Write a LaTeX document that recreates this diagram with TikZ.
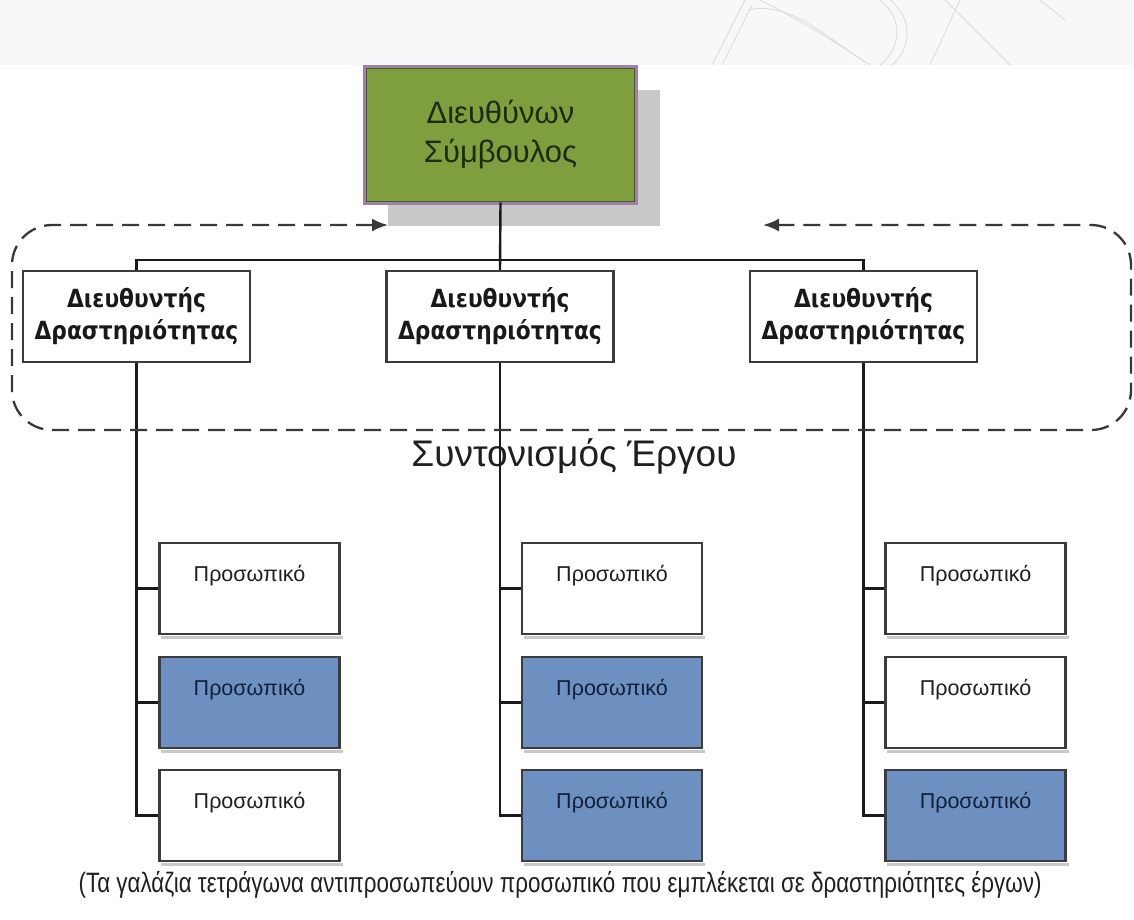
\documentclass[tikz,border=0pt]{standalone}
\usepackage{fontspec}
\setmainfont{Liberation Sans}
\newfontfamily\headfam[FakeStretch=0.87]{DejaVu Sans}
\newfontfamily\narrowfam[FakeStretch=0.8]{Liberation Sans}
\usetikzlibrary{arrows.meta,backgrounds,calc}

\definecolor{ceogreen}{HTML}{7F9F3F}
\definecolor{ceoedge}{HTML}{4A5A2A}
\definecolor{ceorim}{HTML}{9F80A8}
\definecolor{ceotext}{HTML}{1D2B0F}
\definecolor{staffblue}{HTML}{6E90C0}
\definecolor{bluetext}{HTML}{10203A}
\definecolor{boxedge}{HTML}{3C3C3C}
\definecolor{shadowgray}{HTML}{C9C9C9}
\definecolor{bandgray}{HTML}{F8F8F8}
\definecolor{markgray}{HTML}{DADADA}
\definecolor{linkcol}{HTML}{1A1A1A}

\tikzset{
  ceobox/.style={rectangle, fill=ceogreen, draw=ceoedge, line width=1.6pt,
    preaction={draw=ceorim, line width=6.5pt},
    minimum width=268pt, minimum height=133pt, align=center,
    font=\fontsize{31}{39}\selectfont, text=ceotext},
  headbox/.style={rectangle, fill=white, draw=boxedge, line width=2.1pt,
    minimum width=227pt, minimum height=91pt, align=center,
    font=\headfam\bfseries\fontsize{25}{32}\selectfont, text=black!90},
  staffbox/.style={rectangle, draw=boxedge, line width=2.1pt,
    minimum width=180pt, minimum height=91pt, inner sep=0pt},
  plainstaff/.style={staffbox, fill=white},
  bluestaff/.style={staffbox, fill=staffblue},
  stafftext/.style={font=\fontsize{21.5}{25}\selectfont, text=#1},
  link/.style={draw=linkcol, line width=2.4pt},
  coord/.style={draw=black!78, line width=2.3pt, dash pattern=on 17pt off 9pt,
    rounded corners=40pt, {Latex[length=16pt,width=13pt]}-{Latex[length=16pt,width=13pt]}},
}

\begin{document}
\begin{tikzpicture}[x=1pt, y=-1pt]
\useasboundingbox (0,0) rectangle (1134,919);

% light header band with a faint logo mark
\fill[bandgray] (0,0) rectangle (1134,65);
\begin{scope}[draw=markgray, line width=0.8pt]
  \draw (712,65) -- (745,0);
  \draw (722,65) -- (752,5);
  \draw (748,10) .. controls (790,0) and (830,40) .. (865,62);
  \draw (760,0) .. controls (800,20) and (840,45) .. (870,65);
  \draw (880,0) .. controls (905,20) and (900,50) .. (880,65);
  \draw (890,0) .. controls (915,20) and (910,50) .. (892,65);
  \draw (930,65) -- (960,0);
  \draw (945,0) -- (1010,65);
  \draw (1040,0) -- (1065,20);
\end{scope}

% chief executive
\node[ceobox] (ceo) at (500.5,135) {Διευθύνων\\Σύμβουλος};
\begin{scope}[on background layer]
  \fill[shadowgray] ($(ceo.north west)+(22,22)$) rectangle ($(ceo.south east)+(25,24)$);
\end{scope}

% activity directors
\node[headbox] (d1) at (136.5,316.5) {Διευθυντής\\Δραστηριότητας};
\node[headbox] (d2) at (500,316.5)   {Διευθυντής\\Δραστηριότητας};
\node[headbox] (d3) at (863.5,316.5) {Διευθυντής\\Δραστηριότητας};

% staff, column by column
\foreach \col/\cx/\ta/\tb/\tc in {a/249.5/plain/blue/plain, b/612/plain/blue/blue, c/975.5/plain/plain/blue}{
  \foreach \row/\cy/\kind in {1/588.5/\ta, 2/702.5/\tb, 3/815.5/\tc}{
    \node[\kind staff] (s\col\row) at (\cx,\cy) {};
  }
}
\foreach \n in {sa1, sa2, sa3, sb1, sb2, sb3, sc1, sc2, sc3}{
  \fill[shadowgray] ($(\n.south west)+(3,1.2)$) rectangle ($(\n.south east)+(2,3.8)$);
}
\foreach \n/\tc in {sa1/black!88, sa2/bluetext, sa3/black!88, sb1/black!88, sb2/bluetext, sb3/bluetext, sc1/black!88, sc2/black!88, sc3/bluetext}{
  \node[stafftext=\tc] (t\n) at ($(\n.north)+(0,34)$) {Προσωπικό};
}

% project coordination label
\node[font=\fontsize{37}{44}\selectfont, text=black!88] (coordlabel) at (574,456) {Συντονισμός Έργου};

% reporting lines
\coordinate (bar) at (500,260);
\draw[link] (ceo.south) -- (d2.north);
\draw[link] (d1.north) -- (d1.north |- bar) -- (d3.north |- bar) -- (d3.north);

\draw[link] (d1.south) |- (sa3.west);
\draw[link] (sa1.west) -- (sa1.west -| d1.south);
\draw[link] (sa2.west) -- (sa2.west -| d1.south);

\draw[link] (d2.south) |- (sb3.west);
\draw[link] (sb1.west) -- (sb1.west -| d2.south);
\draw[link] (sb2.west) -- (sb2.west -| d2.south);

\draw[link] (d3.south) |- (sc3.west);
\draw[link] (sc1.west) -- (sc1.west -| d3.south);
\draw[link] (sc2.west) -- (sc2.west -| d3.south);

% dashed coordination loop around the directors
\coordinate (loopl) at (388,225);
\coordinate (loopr) at (763,225);
\draw[coord] (loopl) -- (12,225) -- (12,430) -- (1131,430) -- (1131,225) -- (loopr);

% footnote
\node[font=\narrowfam\fontsize{28}{32}\selectfont, text=black!88] (note) at (560,885)
  {(Τα γαλάζια τετράγωνα αντιπροσωπεύουν προσωπικό που εμπλέκεται σε δραστηριότητες έργων)};
\end{tikzpicture}
\end{document}
